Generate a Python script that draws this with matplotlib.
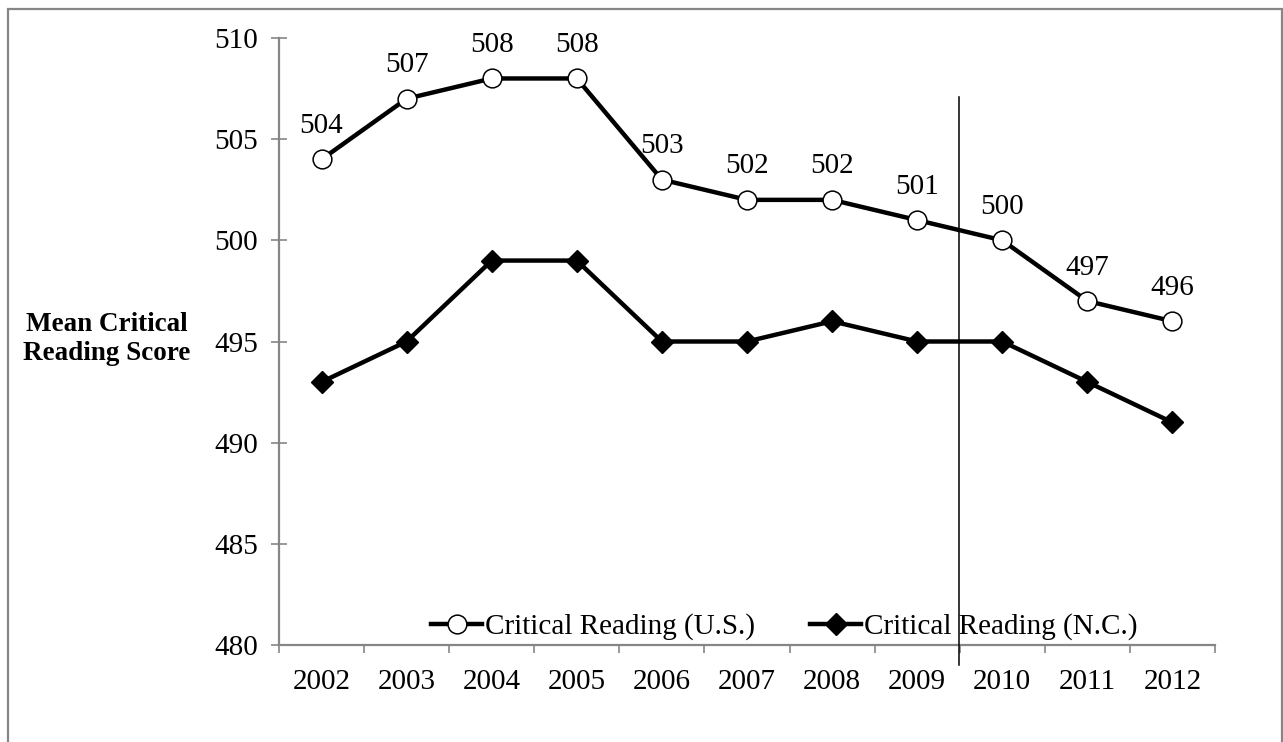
import matplotlib
matplotlib.use('Agg')
import matplotlib.pyplot as plt
from matplotlib.patches import Rectangle

years = ['2002', '2003', '2004', '2005', '2006', '2007', '2008', '2009', '2010', '2011', '2012']
us = [504, 507, 508, 508, 503, 502, 502, 501, 500, 497, 496]
nc = [493, 495, 499, 499, 495, 495, 496, 495, 495, 493, 491]
yticks = [480, 485, 490, 495, 500, 505, 510]

plt.rcParams['font.family'] = ['Liberation Serif', 'DejaVu Serif']

fig = plt.figure(figsize=(12.83, 7.42), dpi=100)
ax = fig.add_axes([279 / 1283, 1 - 645 / 742, 936 / 1283, 607 / 742])

x = list(range(len(years)))
ax.plot(x, us, color='black', lw=3.2, marker='o', ms=13.5, mfc='white', mec='black', mew=1.1,
        label='Critical Reading (U.S.)', zorder=3)
ax.plot(x, nc, color='black', lw=3.2, marker='D', ms=11, mfc='black', mec='black',
        label='Critical Reading (N.C.)', zorder=3)

for xi, v in zip(x, us):
    ax.annotate(str(v), (xi, v), xytext=(0, 19), textcoords='offset points',
                ha='center', va='baseline', fontsize=21)

# vertical divider between 2009 and 2010
ax.plot([7.49, 7.49], [507.08, 479.0], color='black', lw=1.1, clip_on=False, zorder=4)

ax.set_xlim(-0.5, len(years) - 0.5)
ax.set_ylim(480, 510)
ax.set_yticks(yticks)
ax.set_xticks([i - 0.5 for i in range(len(years) + 1)])
ax.set_xticklabels([])
ax.set_xticks(x, minor=True)
ax.set_xticklabels(years, minor=True)

gray = '#868686'
for s in ['top', 'right']:
    ax.spines[s].set_visible(False)
for s in ['left', 'bottom']:
    ax.spines[s].set_color(gray)
    ax.spines[s].set_linewidth(1.6)

ax.tick_params(axis='y', direction='inout', length=12, width=1.2, color=gray,
               labelsize=21, pad=9)
ax.tick_params(axis='x', which='major', direction='out', length=6, width=1.2, color=gray)
ax.tick_params(axis='x', which='minor', length=0, labelsize=21, pad=17)

fig.text(107 / 1283, 1 - 339 / 742, 'Mean Critical\nReading Score', ha='center', va='center',
         fontsize=19.5, fontweight='bold', linespacing=1.23)

ax.legend(loc='center', bbox_to_anchor=(0.54, 0.03), ncol=2, frameon=False, fontsize=21,
          handlelength=1.75, handletextpad=0.1, columnspacing=1.9, borderaxespad=0)

fig.patches.append(Rectangle((8 / 1283, -0.05), 1274 / 1283, 1.05 - 9 / 742,
                             transform=fig.transFigure, fill=False, edgecolor=gray, lw=1.6))

fig.savefig('out.png', dpi=100)
